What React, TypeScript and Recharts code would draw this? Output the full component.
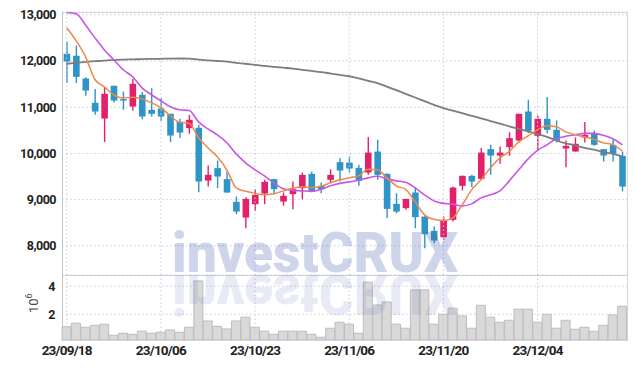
import { Bar, CartesianGrid, ComposedChart, Line, ReferenceLine, XAxis, YAxis } from 'recharts';

const dates = [
  '23/09/18', '23/09/19', '23/09/20', '23/09/21', '23/09/22', '23/09/25', '23/09/26', '23/09/27',
  '23/10/04', '23/10/05', '23/10/06', '23/10/10', '23/10/11', '23/10/12', '23/10/13', '23/10/16',
  '23/10/17', '23/10/18', '23/10/19', '23/10/20', '23/10/23', '23/10/24', '23/10/25', '23/10/26',
  '23/10/27', '23/10/30', '23/10/31', '23/11/01', '23/11/02', '23/11/03', '23/11/06', '23/11/07',
  '23/11/08', '23/11/09', '23/11/10', '23/11/13', '23/11/14', '23/11/15', '23/11/16', '23/11/17',
  '23/11/20', '23/11/21', '23/11/22', '23/11/23', '23/11/24', '23/11/27', '23/11/28', '23/11/29',
  '23/11/30', '23/12/01', '23/12/04', '23/12/05', '23/12/06', '23/12/07', '23/12/08', '23/12/11',
  '23/12/12', '23/12/13', '23/12/14', '23/12/15',
];

const tickDates = ['23/09/18', '23/10/06', '23/10/23', '23/11/06', '23/11/20', '23/12/04'];
const priceTicks = [8000, 9000, 10000, 11000, 12000, 13000];
const volumeTicks = [2, 4];

const open = [
  12156, 12113, 11621, 11095, 10755, 11463, 11175, 11015, 11268, 10944,
  10972, 10857, 10684, 10548, 10554, 9413, 9682, 9444, 8952, 8613,
  8903, 9132, 9444, 8959, 9119, 9249, 9558, 9299, 9429, 9812,
  9803, 9688, 9587, 10041, 9558, 8909, 8816, 9154, 8634, 8325,
  8188, 8563, 9299, 9515, 9450, 10093, 9954, 10136, 10279, 10907,
  10381, 10749, 10511, 10106, 10041, 10344, 10439, 10093, 10186, 9948,
];
const high = [
  12422, 12335, 11650, 11392, 11435, 11470, 11340, 11615, 11327, 11413,
  11197, 10860, 10749, 10829, 10619, 9738, 9846, 9608, 9067, 9054,
  9227, 9429, 9450, 9154, 9392, 9587, 9608, 9370, 9660, 9898,
  9933, 9753, 10353, 10294, 9570, 9141, 9020, 9271, 8640, 8418,
  8634, 9284, 9520, 9537, 10115, 10186, 10149, 10461, 10860, 11160,
  10814, 11219, 10712, 10279, 10344, 10678, 10496, 10095, 10294, 10041,
];
const low = [
  11522, 11522, 11247, 10836, 10245, 11102, 10944, 10922, 10742, 10799,
  10706, 10245, 10332, 10424, 9162, 9284, 9249, 9150, 8686, 8383,
  8757, 8903, 9119, 8866, 8794, 9011, 9170, 9141, 9357, 9392,
  9587, 9299, 9537, 9429, 8600, 8708, 8779, 8383, 7950, 8058,
  8130, 8526, 9197, 9271, 9429, 9537, 9775, 9948, 10236, 10439,
  10063, 10439, 10236, 9703, 10040, 10236, 10165, 9825, 9825, 9175,
];
const close = [
  11989, 11658, 11361, 10907, 11290, 11145, 11145, 11506, 10799, 10857,
  10799, 10388, 10453, 10727, 9392, 9537, 9500, 9154, 8742, 9017,
  9104, 9385, 9227, 9082, 9227, 9537, 9175, 9227, 9537, 9630,
  9673, 9407, 10019, 9537, 8801, 8742, 9017, 8621, 8253, 8115,
  8548, 9262, 9515, 9392, 10019, 9954, 10019, 10331, 10857, 10489,
  10749, 10511, 10273, 10165, 10208, 10403, 10186, 9954, 9991, 9284,
];

const ma5 = [
  12720, 12440, 12090, 11600, 11440, 11268, 11200, 11215, 11180, 11095,
  10990, 10815, 10675, 10650, 10340, 10121, 9926, 9646, 9256, 9180,
  9136, 9104, 9126, 9190, 9245, 9277, 9262, 9288, 9364, 9429,
  9472, 9515, 9656, 9646, 9472, 9299, 9223, 8952, 8671, 8574,
  8548, 8606, 8887, 9212, 9429, 9688, 9905, 10045, 10251, 10381,
  10511, 10597, 10576, 10467, 10403, 10359, 10305, 10229, 10186, 10056,
];
const ma20 = [
  13050, 13020, 12780, 12500, 12240, 12026, 11810, 11660, 11420, 11270,
  11140, 11010, 10944, 10930, 10684, 10532, 10400, 10230, 9990, 9797,
  9646, 9515, 9364, 9234, 9200, 9190, 9180, 9223, 9299, 9353,
  9385, 9418, 9472, 9505, 9450, 9407, 9375, 9256, 9104, 8974,
  8920, 8903, 8866, 8909, 9039, 9104, 9190, 9407, 9646, 9883,
  10067, 10186, 10316, 10370, 10403, 10435, 10435, 10392, 10316, 10186,
];
const ma60 = [
  11940, 11960, 11980, 11995, 12010, 12020, 12030, 12035, 12040, 12045,
  12048, 12052, 12054, 12052, 12030, 12015, 12000, 11985, 11960, 11940,
  11915, 11895, 11875, 11855, 11835, 11810, 11785, 11760, 11730, 11700,
  11670, 11625, 11570, 11520, 11445, 11370, 11290, 11210, 11130, 11050,
  10980, 10925, 10870, 10815, 10760, 10700, 10645, 10585, 10530, 10475,
  10420, 10360, 10280, 10220, 10175, 10120, 10080, 10030, 9990, 9930,
];

// volume in millions
const volume = [
  1.11, 1.36, 1.07, 1.21, 1.29, 0.5, 0.64, 0.57, 0.79, 0.64,
  0.71, 0.88, 0.71, 1.07, 4.38, 1.52, 1.14, 0.95, 1.52, 1.79,
  1.07, 0.79, 0.57, 0.79, 0.79, 0.79, 0.57, 0.36, 1.0, 1.43,
  1.29, 0.64, 4.29, 2.66, 2.88, 1.29, 1.0, 3.74, 3.74, 1.29,
  2.0, 2.43, 1.88, 1.0, 2.64, 1.79, 1.43, 1.57, 2.36, 2.36,
  1.43, 2.0, 1.0, 1.57, 0.93, 1.07, 0.79, 1.21, 1.95, 2.57,
];

const rows = dates.map((date, i) => ({
  date,
  open: open[i],
  high: high[i],
  low: low[i],
  close: close[i],
  ma5: ma5[i],
  ma20: ma20[i],
  ma60: ma60[i],
  vol: volume[i],
}));

const RED = '#e3206b';
const BLUE = '#2f94c6';
const GRID = '#c9c9dd';
const tickStyle = { fontFamily: 'Roboto', fontSize: 12.5, fontWeight: 700, fill: '#222', letterSpacing: -0.5 };

function Candle(props: any) {
  const { x, y, width, height, payload } = props;
  if (!payload) return null;
  const top = Math.min(y, y + height);
  const h = Math.abs(height);
  const range = payload.high - payload.low || 1;
  const pix = (v: number) => top + ((payload.high - v) / range) * h;
  const up = payload.close >= payload.open;
  const color = up ? RED : BLUE;
  const cx = x + width / 2;
  const bTop = pix(Math.max(payload.open, payload.close));
  const bBot = pix(Math.min(payload.open, payload.close));
  return (
    <g>
      <line x1={cx} x2={cx} y1={top} y2={top + h} stroke={color} strokeWidth={1.4} />
      <rect x={cx - 3.3} y={bTop} width={6.6} height={Math.max(bBot - bTop, 1.5)} fill={color} />
    </g>
  );
}

export default function App() {
  return (
    <div style={{ position: 'fixed', left: 0, top: 0, width: 635, height: 369, background: '#fff', fontFamily: 'Roboto' }}>
      <div style={{ position: 'absolute', left: 62, top: 12, width: 564, height: 327, border: '1px solid #d6d6dc', borderLeftColor: '#c4c4c4', boxSizing: 'content-box' }} />
      <div style={{ position: 'absolute', left: 62, top: 275, width: 565, height: 1, background: '#d0d0d6' }} />

      <div style={{ position: 'absolute', left: 0, top: 0 }}>
        <ComposedChart width={635} height={275} data={rows} margin={{ top: 12, right: 8, bottom: 0, left: 0 }}>
          <CartesianGrid vertical={false} stroke={GRID} strokeDasharray="1.5 2.5" />
          <XAxis dataKey="date" hide />
          <YAxis
            domain={[7370, 13060]}
            allowDataOverflow
            ticks={priceTicks}
            width={62}
            tickLine={false}
            tickSize={4}
            axisLine={false}
            tick={tickStyle}
            tickFormatter={(v: number) => v.toLocaleString('en-US')}
          />
          {tickDates.map((d) => (
            <ReferenceLine key={d} x={d} stroke={GRID} strokeDasharray="1.5 2.5" />
          ))}
          <Line type="monotone" dataKey="ma60" stroke="#7d7d7d" strokeWidth={1.8} dot={false} isAnimationActive={false} />
          <Bar dataKey={(d: any) => [d.low, d.high]} shape={<Candle />} isAnimationActive={false} />
          <Line type="monotone" dataKey="ma20" stroke="#c855ea" strokeWidth={1.6} dot={false} isAnimationActive={false} />
          <Line type="monotone" dataKey="ma5" stroke="#f0874a" strokeWidth={1.5} dot={false} isAnimationActive={false} />
        </ComposedChart>
      </div>

      <div style={{ position: 'absolute', left: 0, top: 275 }}>
        <ComposedChart width={635} height={94} data={rows} margin={{ top: 0, right: 8, bottom: 0, left: 0 }} barCategoryGap={0}>
          <CartesianGrid vertical={false} stroke={GRID} strokeDasharray="1.5 2.5" />
          <XAxis
            dataKey="date"
            ticks={tickDates}
            height={29}
            tickLine={false}
            tickSize={0}
            tickMargin={5}
            axisLine={false}
            interval={0}
            tick={{ ...tickStyle, fontSize: 13.5, letterSpacing: -0.8 }}
          />
          <YAxis
            domain={[0.16, 4.8]}
            allowDataOverflow
            ticks={volumeTicks}
            width={62}
            tickLine={false}
            tickSize={5}
            axisLine={false}
            tick={tickStyle}
          />
          {tickDates.map((d) => (
            <ReferenceLine key={d} x={d} stroke={GRID} strokeDasharray="1.5 2.5" />
          ))}
          <Bar dataKey="vol" fill="#d9d9d9" stroke="#bdbdbd" strokeWidth={1} isAnimationActive={false} />
        </ComposedChart>
      </div>

      <svg width={635} height={369} style={{ position: 'absolute', left: 0, top: 0, pointerEvents: 'none' }}>
        <text x={172} y={272} fontFamily="Roboto" fontWeight={900} fontSize={56} textLength={286} lengthAdjust="spacingAndGlyphs" fill="#4a5fb0" fillOpacity={0.27}>
          investCRUX
        </text>
        <g transform="translate(0,547) scale(1,-1)">
          <text x={172} y={272} fontFamily="Roboto" fontWeight={900} fontSize={56} textLength={286} lengthAdjust="spacingAndGlyphs" fill="#4a5fb0" fillOpacity={0.13}>
            investCRUX
          </text>
        </g>
        <text transform="translate(38,313) rotate(-90)" fontFamily="Roboto" fontSize={13} fill="#444">
          10<tspan dy={-6} fontSize={9}>6</tspan>
        </text>
      </svg>
    </div>
  );
}
